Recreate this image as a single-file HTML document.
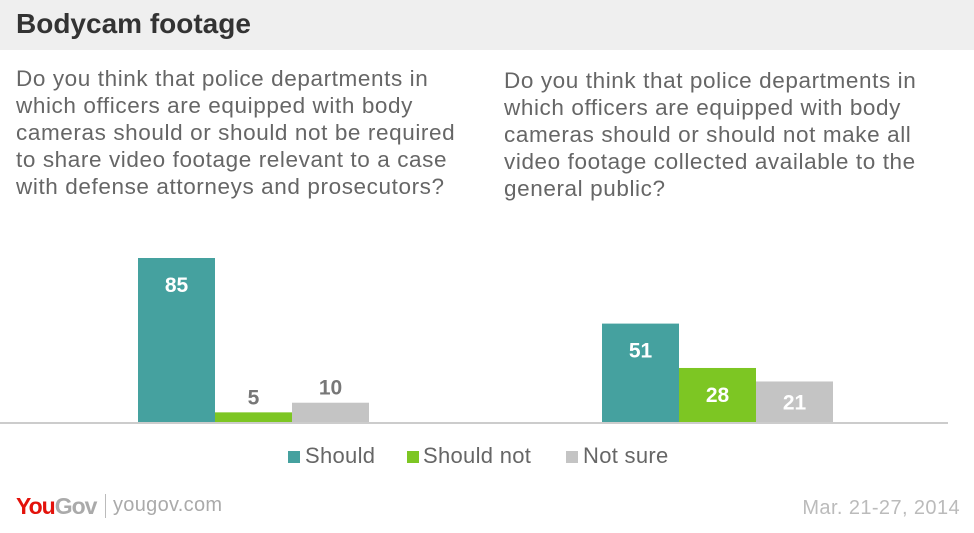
<!DOCTYPE html>
<html><head><meta charset="utf-8"><style>
body{margin:0;width:974px;height:533px;background:#fff;font-family:"Liberation Sans",sans-serif;position:relative;overflow:hidden}
.hdr{position:absolute;left:0;top:0;width:974px;height:50px;background:#efefef}
.title{position:absolute;left:16px;top:8px;font-size:28px;font-weight:bold;color:#333}
.q{position:absolute;top:65px;font-size:22.5px;line-height:27px;color:#666;white-space:nowrap;letter-spacing:0.6px}
.leg{position:absolute;top:443px;font-size:22px;color:#666;letter-spacing:0.3px}
.sw{position:absolute;top:451px;width:12px;height:12px}
</style></head><body>
<div class="hdr"></div>
<div class="title">Bodycam footage</div>
<div class="q" style="left:16px">Do you think that police departments in<br>which officers are equipped with body<br>cameras should or should not be required<br>to share video footage relevant to a case<br>with defense attorneys and prosecutors?</div>
<div class="q" style="left:504px;top:67px">Do you think that police departments in<br>which officers are equipped with body<br>cameras should or should not make all<br>video footage collected available to the<br>general public?</div>
<svg id="chart" width="974" height="533" style="position:absolute;left:0;top:0"></svg>
<div class="sw" style="left:288px;background:#45a19f"></div>
<div class="leg" style="left:305px">Should</div>
<div class="sw" style="left:407px;background:#7dc623"></div>
<div class="leg" style="left:423px">Should not</div>
<div class="sw" style="left:566px;background:#c4c4c4"></div>
<div class="leg" style="left:583px">Not sure</div>
<div style="position:absolute;left:16px;top:493px;font-size:23px;font-weight:bold;letter-spacing:-1px"><span style="color:#e3120b">You</span><span style="color:#aaa">Gov</span></div>
<div style="position:absolute;left:105px;top:494px;width:1px;height:24px;background:#bbb"></div>
<div style="position:absolute;left:113px;top:494px;font-size:20px;color:#aaa;letter-spacing:0.3px">yougov.com</div>
<div style="position:absolute;right:14px;top:497px;font-size:20px;color:#bbb;letter-spacing:0.4px">Mar. 21-27, 2014</div>
<script>
const groups=["required to share","public release"];
const series=["Should","Should not","Not sure"];
const shouldVals=[85,51];
const shouldNotVals=[5,28];
const notSureVals=[10,21];
const colors=["#45a19f","#7dc623","#c4c4c4"];
const svg=document.getElementById('chart');
const NS="http://www.w3.org/2000/svg";
const base=422, perUnit=164/85;
const y=v=>base-v*perUnit;
const groupX=[138,602], bw=77;
const all=[shouldVals,shouldNotVals,notSureVals];
groups.forEach((g,gi)=>{
  all.forEach((arr,si)=>{
    const v=arr[gi];
    const x=groupX[gi]+si*bw;
    const r=document.createElementNS(NS,'rect');
    r.setAttribute('x',x);r.setAttribute('y',y(v));
    r.setAttribute('width',bw);r.setAttribute('height',base-y(v));
    r.setAttribute('fill',colors[si]);
    
    
    svg.appendChild(r);
    const t=document.createElementNS(NS,'text');
    const h=base-y(v);
    const inside=h>30;
    t.setAttribute('x',x+bw/2);
    t.setAttribute('y',inside?(h>50?y(v)+34:y(v)+h/2+8):y(v)-8);
    t.setAttribute('text-anchor','middle');
    t.setAttribute('font-size','21');t.setAttribute('font-weight','bold');
    t.setAttribute('font-family','Liberation Sans, sans-serif');
    t.setAttribute('fill',inside?'#fff':'#777');
    t.textContent=v;
    
    
    svg.appendChild(t);
  });
});
const l=document.createElementNS(NS,'rect');
l.setAttribute('x',0);l.setAttribute('y',base);l.setAttribute('width',948);l.setAttribute('height',2);l.setAttribute('fill','#ccc');


svg.appendChild(l);
</script>
</body></html>
